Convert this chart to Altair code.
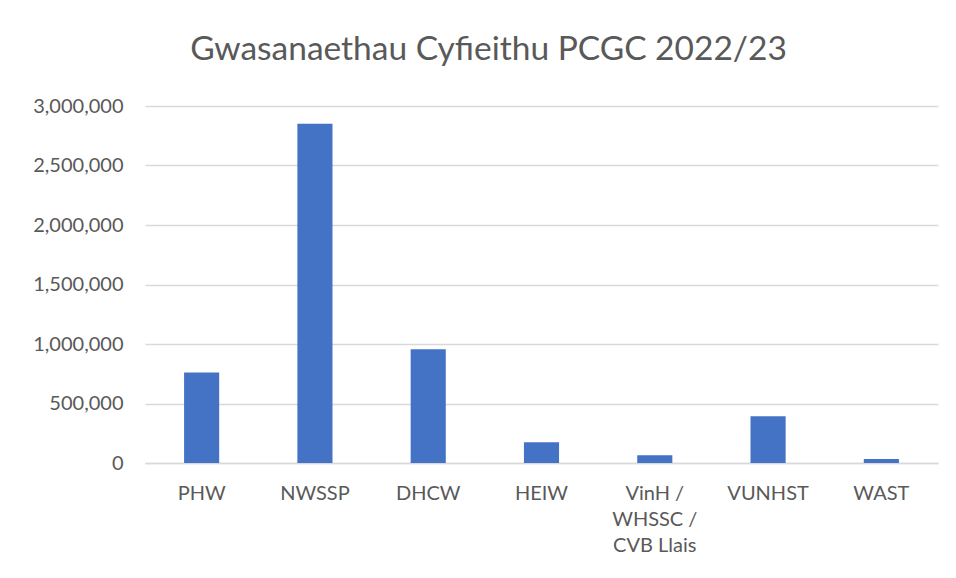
import altair as alt
import pandas as pd

categories = ["PHW", "NWSSP", "DHCW", "HEIW", "VinH /|WHSSC /|CVB Llais", "VUNHST", "WAST"]
values = [761000, 2850000, 955000, 174000, 65000, 393000, 34000]
title_text = "Gwasanaethau Cyfieithu PCGC 2022/23"

df = pd.DataFrame({"cat": categories, "val": values})

FONT = "Lato"
GREY = "#595959"

chart = alt.Chart(df, title=alt.Title(title_text, fontSize=33.5, font=FONT, color=GREY,
                                      fontWeight="normal", anchor="middle", dx=-53, offset=29)).mark_bar(
    color="#4472C4"
).encode(
    x=alt.X("cat:N", sort=categories, title=None,
            scale=alt.Scale(paddingInner=0.69, paddingOuter=0.345),
            axis=alt.Axis(labelAngle=0, labelExpr="split(datum.label, '|')",
                          labelFontSize=20, labelFont=FONT, labelColor=GREY,
                          labelPadding=20, labelLineHeight=26, ticks=False,
                          domainColor="#D9D9D9", domainWidth=1.5, grid=False)),
    y=alt.Y("val:Q", title=None,
            scale=alt.Scale(domain=[0, 3000000]),
            axis=alt.Axis(values=[0, 500000, 1000000, 1500000, 2000000, 2500000, 3000000],
                          format=",d", labelFontSize=20, labelFont=FONT, labelColor=GREY,
                          labelPadding=22, ticks=False, domain=False,
                          gridColor="#D9D9D9", gridWidth=1.5)),
).properties(
    width=793, height=357,
    autosize=alt.AutoSizeParams(type="none"),
    padding={"left": 137, "top": 98, "right": 10, "bottom": 107},
).configure_view(stroke=None)

chart.save("out.html", embed_options={"renderer": "svg", "actions": False})
